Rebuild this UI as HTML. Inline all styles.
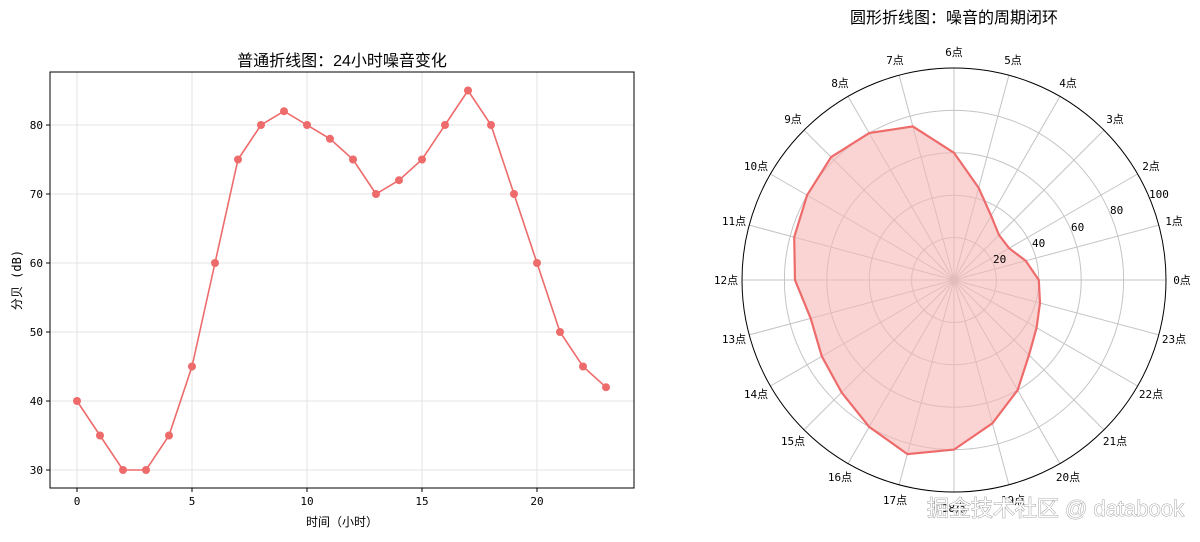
<!DOCTYPE html>
<html><head><meta charset="utf-8"><style>
body{margin:0;background:#fff;width:1200px;height:537px;overflow:hidden}
svg{font-family:"DejaVu Sans Mono","Liberation Mono","Noto Sans CJK SC",monospace}
.t{font-family:"Liberation Sans","Noto Sans CJK SC",sans-serif}
</style></head><body>
<svg width="1200" height="537" viewBox="0 0 1200 537" xmlns="http://www.w3.org/2000/svg">
<g stroke="#e3e3e3" stroke-width="1">
<line x1="77" y1="72" x2="77" y2="488"/><line x1="192" y1="72" x2="192" y2="488"/><line x1="307" y1="72" x2="307" y2="488"/><line x1="422" y1="72" x2="422" y2="488"/><line x1="537" y1="72" x2="537" y2="488"/>
<line x1="50" y1="470" x2="634" y2="470"/><line x1="50" y1="401" x2="634" y2="401"/><line x1="50" y1="332" x2="634" y2="332"/><line x1="50" y1="263" x2="634" y2="263"/><line x1="50" y1="194" x2="634" y2="194"/><line x1="50" y1="125" x2="634" y2="125"/>
</g>
<rect x="50" y="72" width="584" height="416" fill="none" stroke="#000" stroke-width="1"/>
<g stroke="#000"><line x1="77" y1="488" x2="77" y2="492"/><line x1="192" y1="488" x2="192" y2="492"/><line x1="307" y1="488" x2="307" y2="492"/><line x1="422" y1="488" x2="422" y2="492"/><line x1="537" y1="488" x2="537" y2="492"/>
<line x1="46" y1="470" x2="50" y2="470"/><line x1="46" y1="401" x2="50" y2="401"/><line x1="46" y1="332" x2="50" y2="332"/><line x1="46" y1="263" x2="50" y2="263"/><line x1="46" y1="194" x2="50" y2="194"/><line x1="46" y1="125" x2="50" y2="125"/></g>
<g font-size="11" text-anchor="middle" fill="#000">
<text x="77" y="505">0</text><text x="192" y="505">5</text><text x="307" y="505">10</text><text x="422" y="505">15</text><text x="537" y="505">20</text></g>
<g font-size="11" text-anchor="end" fill="#000">
<text x="43" y="474">30</text><text x="43" y="405">40</text><text x="43" y="336">50</text><text x="43" y="267">60</text><text x="43" y="198">70</text><text x="43" y="129">80</text></g>
<text x="342" y="66" class="t" font-size="16" text-anchor="middle">普通折线图：24小时噪音变化</text>
<text x="342" y="526" font-size="12" text-anchor="middle">时间（小时）</text>
<text x="21" y="280" font-size="12" text-anchor="middle" transform="rotate(-90 21 280)">分贝 (dB)</text>
<polyline fill="none" stroke="#ee6b6b" stroke-width="1.6" points="77,401 100,435.5 123,470 146,470 169,435.5 192,366.5 215,263 238,159.5 261,125 284,111.2 307,125 330,138.8 353,159.5 376,194 399,180.2 422,159.5 445,125 468,90.5 491,125 514,194 537,263 560,332 583,366.5 606,387.2"/>
<g fill="#ee6b6b">
<circle cx="77" cy="401" r="4"/><circle cx="100" cy="435.5" r="4"/><circle cx="123" cy="470" r="4"/><circle cx="146" cy="470" r="4"/><circle cx="169" cy="435.5" r="4"/><circle cx="192" cy="366.5" r="4"/><circle cx="215" cy="263" r="4"/><circle cx="238" cy="159.5" r="4"/><circle cx="261" cy="125" r="4"/><circle cx="284" cy="111.2" r="4"/><circle cx="307" cy="125" r="4"/><circle cx="330" cy="138.8" r="4"/><circle cx="353" cy="159.5" r="4"/><circle cx="376" cy="194" r="4"/><circle cx="399" cy="180.2" r="4"/><circle cx="422" cy="159.5" r="4"/><circle cx="445" cy="125" r="4"/><circle cx="468" cy="90.5" r="4"/><circle cx="491" cy="125" r="4"/><circle cx="514" cy="194" r="4"/><circle cx="537" cy="263" r="4"/><circle cx="560" cy="332" r="4"/><circle cx="583" cy="366.5" r="4"/><circle cx="606" cy="387.2" r="4"/></g>

<text x="954" y="23" class="t" font-size="16" text-anchor="middle">圆形折线图：噪音的周期闭环</text>
<g stroke="#c4c4c4" stroke-width="1" fill="none">
<circle cx="954" cy="280" r="42.4"/><circle cx="954" cy="280" r="84.8"/><circle cx="954" cy="280" r="127.2"/><circle cx="954" cy="280" r="169.6"/>
<g id="sp">
<line x1="954" y1="280" x2="1166" y2="280"/>
<line x1="954" y1="280" x2="1166" y2="280" transform="rotate(-15 954 280)"/>
<line x1="954" y1="280" x2="1166" y2="280" transform="rotate(-30 954 280)"/>
<line x1="954" y1="280" x2="1166" y2="280" transform="rotate(-45 954 280)"/>
<line x1="954" y1="280" x2="1166" y2="280" transform="rotate(-60 954 280)"/>
<line x1="954" y1="280" x2="1166" y2="280" transform="rotate(-75 954 280)"/>
</g>
<use href="#sp" transform="rotate(-90 954 280)"/>
<use href="#sp" transform="rotate(-180 954 280)"/>
<use href="#sp" transform="rotate(-270 954 280)"/>
</g>
<polygon fill="#f7b5b5" fill-opacity="0.6" stroke="#ee6b6b" stroke-width="2.2" points="1038.8,280 1025.7,260.8 1009.1,248.2 999,235 991.1,215.7 978.7,187.9 954,152.8 912.8,126.4 869.2,133.1 831.1,157.1 807.1,195.2 794.2,237.2 795,280 810.7,318.4 821.8,356.3 841.6,392.4 869.2,426.9 907.4,454.1 954,449.6 992.4,423.3 1017.6,390.2 1029,355 1036.6,327.7 1040,303"/>
<circle cx="954" cy="280" r="212" fill="none" stroke="#000" stroke-width="1"/>
<g font-size="11" fill="#000">
<text x="993" y="263">20</text><text x="1032" y="247">40</text><text x="1071" y="231">60</text><text x="1110" y="214">80</text><text x="1149" y="198">100</text></g>
<g font-size="11" text-anchor="middle" fill="#000">
<text x="1182" y="284">0点</text><text x="1174" y="225">1点</text><text x="1151" y="170">2点</text><text x="1115" y="123">3点</text><text x="1068" y="87">4点</text><text x="1013" y="64">5点</text><text x="954" y="56">6点</text><text x="895" y="64">7点</text><text x="840" y="87">8点</text><text x="793" y="123">9点</text><text x="756" y="170">10点</text><text x="734" y="225">11点</text><text x="726" y="284">12点</text><text x="734" y="343">13点</text><text x="756" y="398">14点</text><text x="793" y="445">15点</text><text x="840" y="481">16点</text><text x="895" y="504">17点</text><text x="954" y="512">18点</text><text x="1013" y="504">19点</text><text x="1068" y="481">20点</text><text x="1115" y="445">21点</text><text x="1151" y="398">22点</text><text x="1174" y="343">23点</text></g>
<text x="1184" y="516" class="t" font-size="22" text-anchor="end" fill="#fff" stroke="#8a8a8a" stroke-width="0.8" paint-order="stroke">掘金技术社区 @ databook</text>
</svg>
</body></html>
